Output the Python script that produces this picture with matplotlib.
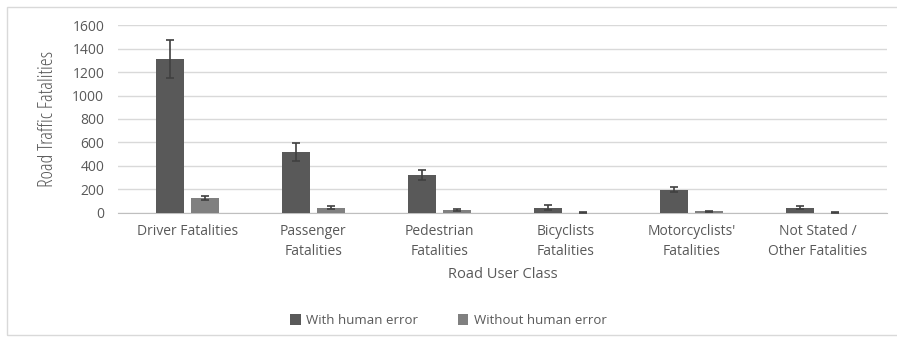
import numpy as np
import matplotlib.pyplot as plt
from matplotlib.patches import Rectangle

# fatalities by road user class
categories = ['Driver Fatalities', 'Passenger\nFatalities', 'Pedestrian\nFatalities',
              'Bicyclists\nFatalities', "Motorcyclists'\nFatalities", 'Not Stated /\nOther Fatalities']
with_error = [1310, 520, 325, 45, 198, 45]
with_error_err = [160, 78, 42, 22, 20, 15]
without_error = [128, 45, 25, 3, 15, 3]
without_error_err = [20, 10, 6, 2, 5, 2]

plt.rcParams['font.family'] = ['Open Sans', 'DejaVu Sans']
text_col = '#595959'

fig = plt.figure(figsize=(8.97, 3.39), dpi=100)
ax = fig.add_axes([0.1316, 0.372, 0.857, 0.554])

x = np.arange(len(categories))
w = 0.22
gap = 0.03
ax.bar(x - w / 2 - gap, with_error, w, yerr=with_error_err, color='#595959',
       error_kw=dict(ecolor='#404040', elinewidth=1.2, capsize=3, capthick=1.2),
       label='With human error', zorder=3)
ax.bar(x + w / 2 + gap, without_error, w, yerr=without_error_err, color='#808080',
       error_kw=dict(ecolor='#404040', elinewidth=1.2, capsize=3, capthick=1.2),
       label='Without human error', zorder=3)

ax.set_ylim(0, 1600)
ax.set_xlim(-0.55, len(categories) - 0.45)
ax.set_yticks(range(0, 1601, 200))
ax.yaxis.grid(True, color='#d9d9d9', linewidth=1)
ax.set_axisbelow(True)
for s in ['top', 'right', 'left']:
    ax.spines[s].set_visible(False)
ax.spines['bottom'].set_color('#bfbfbf')
ax.tick_params(axis='both', length=0, colors=text_col, labelsize=10)
ax.tick_params(axis='y', pad=10)
ax.tick_params(axis='x', pad=8)
ax.set_xticks(x)
ax.set_xticklabels(categories, linespacing=1.45)

ax.set_ylabel('Road Traffic Fatalities', color=text_col, fontsize=14.5,
              fontstretch='condensed', labelpad=10)
ax.set_xlabel('Road User Class', color=text_col, fontsize=10.5, labelpad=6)

fig.legend(loc='lower center', bbox_to_anchor=(0.5, 0.0), ncol=2, frameon=False,
           fontsize=9.5, labelcolor=text_col, handlelength=0.8, handleheight=0.8,
           columnspacing=3, handletextpad=0.4)

# light frame round the chart
fig.patches.append(Rectangle((0.008, 0.012), 1.0, 0.968, transform=fig.transFigure,
                             fill=False, edgecolor='#d9d9d9', linewidth=1))

fig.savefig('out.png', dpi=100)
